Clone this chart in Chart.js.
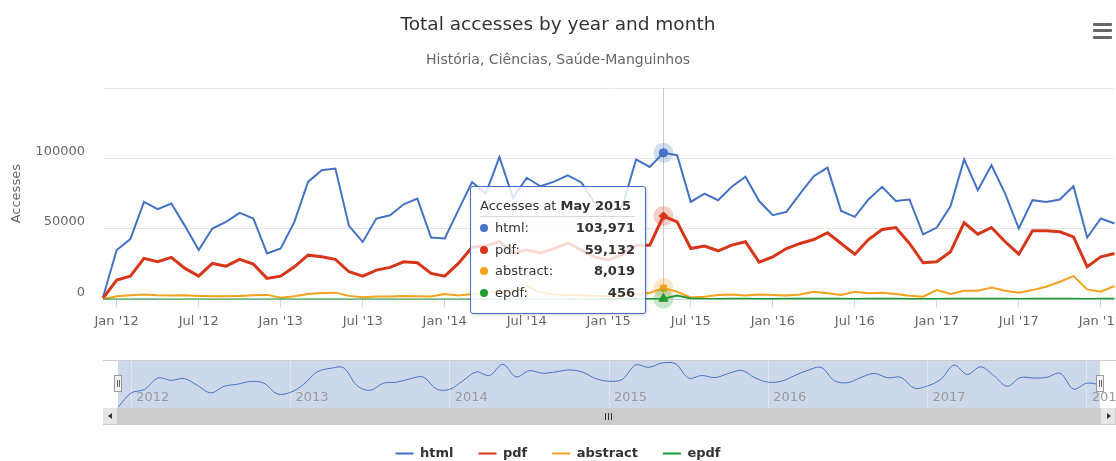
<!DOCTYPE html>
<html lang="en">
<head>
    <meta charset="UTF-8">
    <title>Total accesses by year and month</title>
    <script src="https://cdn.jsdelivr.net/npm/chart.js"></script>
    <style>
        body { margin: 0; background: #fff; font-family: "DejaVu Sans", sans-serif; }
        #wrap { position: relative; width: 1116px; height: 461px; overflow: hidden; }
        #mainChart { position: absolute; left: 0; top: 0; }
        #navChart { position: absolute; left: 103px; top: 360px; }
        .menu { position: absolute; left: 1093px; width: 19px; height: 3px; background: #666; border-radius: 1px; }
        .handle { position: absolute; top: 375px; width: 6px; height: 15px; background: #f2f2f2; border: 1px solid #999; }
        .handle::before, .handle::after { content: ""; position: absolute; top: 4px; width: 1px; height: 7px; background: #666; }
        .handle::before { left: 2px; }
        .handle::after { left: 4px; }
        #scrollbar { position: absolute; left: 103px; top: 408px; width: 1013px; height: 17px; background: #cccccc; }
        .sbtn { position: absolute; top: 408px; width: 14px; height: 16px; background: #e6e6e6; border: 1px solid #cccccc; border-width: 0 1px 1px 0; }
        .arrow { position: absolute; top: 5px; left: 5px; width: 0; height: 0; border-top: 3px solid transparent; border-bottom: 3px solid transparent; }
        .grip { position: absolute; top: 413px; width: 1px; height: 7px; background: #333; }
        #tip { position: absolute; box-sizing: border-box; width: 176px; height: 128px; padding: 9px 10px 9px 9px;
               background: rgba(255,255,255,0.82); border: 1px solid #4472c4; border-radius: 3px;
               box-shadow: 1px 1px 3px rgba(0,0,0,0.18); font-size: 13px; color: #333; opacity: 0; pointer-events: none; }
        #tip .head { line-height: 20px; border-bottom: 1px solid #d8d8d8; white-space: nowrap; }
        #tip .row { display: flex; align-items: center; line-height: 21.7px; white-space: nowrap; }
        #tip .dot { width: 8px; height: 8px; border-radius: 50%; }
        #tip .name { flex: 1; margin-left: 7px; }
        #tip .val { font-weight: bold; }
    </style>
</head>
<body>
<div id="wrap">
    <canvas id="mainChart" width="1116" height="470"></canvas>
    <canvas id="navChart" width="1013" height="48"></canvas>

    <!-- export menu icon -->
    <div class="menu" style="top:23px"></div>
    <div class="menu" style="top:29px"></div>
    <div class="menu" style="top:36px"></div>

    <!-- navigator scrollbar -->
    <div id="scrollbar"></div>
    <div class="sbtn" style="left:103px"><div class="arrow" style="border-right:4px solid #333"></div></div>
    <div class="sbtn" style="left:1101px"><div class="arrow" style="left:6px;border-left:4px solid #333"></div></div>
    <div class="grip" style="left:605px"></div>
    <div class="grip" style="left:608px"></div>
    <div class="grip" style="left:611px"></div>
    <div class="handle" id="handleL"></div>
    <div class="handle" id="handleR"></div>

    <div id="tip"></div>
</div>

<script>
    // months shown on the x axis
    const categories = [
        'Dec 2011',
        'Jan 2012', 'Feb 2012', 'Mar 2012', 'Apr 2012', 'May 2012', 'Jun 2012', 'Jul 2012', 'Aug 2012', 'Sep 2012', 'Oct 2012', 'Nov 2012', 'Dec 2012',
        'Jan 2013', 'Feb 2013', 'Mar 2013', 'Apr 2013', 'May 2013', 'Jun 2013', 'Jul 2013', 'Aug 2013', 'Sep 2013', 'Oct 2013', 'Nov 2013', 'Dec 2013',
        'Jan 2014', 'Feb 2014', 'Mar 2014', 'Apr 2014', 'May 2014', 'Jun 2014', 'Jul 2014', 'Aug 2014', 'Sep 2014', 'Oct 2014', 'Nov 2014', 'Dec 2014',
        'Jan 2015', 'Feb 2015', 'Mar 2015', 'Apr 2015', 'May 2015', 'Jun 2015', 'Jul 2015', 'Aug 2015', 'Sep 2015', 'Oct 2015', 'Nov 2015', 'Dec 2015',
        'Jan 2016', 'Feb 2016', 'Mar 2016', 'Apr 2016', 'May 2016', 'Jun 2016', 'Jul 2016', 'Aug 2016', 'Sep 2016', 'Oct 2016', 'Nov 2016', 'Dec 2016',
        'Jan 2017', 'Feb 2017', 'Mar 2017', 'Apr 2017', 'May 2017', 'Jun 2017', 'Jul 2017', 'Aug 2017', 'Sep 2017', 'Oct 2017', 'Nov 2017', 'Dec 2017',
        'Jan 2018', 'Feb 2018'
    ];

    const htmlAccesses = [
        1500,
        35000, 42800, 69200, 64000, 68000, 52000, 35000, 50300, 55000, 61400, 57400, 32600,
        36100, 55000, 83400, 91600, 92800, 52000, 40800, 57400, 59700, 67500, 71500, 43900,
        43200, 63300, 83300, 75100, 101000, 72000, 86300, 80300, 83600, 88000, 83000, 68000,
        62000, 66000, 99300, 94000, 103971, 102300, 69200, 75100, 70400, 79900, 87000, 69800,
        59800, 62100, 75100, 87400, 93500, 62800, 58600, 70900, 79900, 69900, 70900, 46100,
        51000, 66100, 99300, 77500, 95200, 75100, 50300, 70400, 69200, 70900, 80300, 43900,
        57400, 53900
    ];

    const pdfAccesses = [
        800,
        13700, 16500, 29100, 26700, 29800, 22000, 16500, 25500, 23600, 28400, 25000, 14900,
        16500, 23100, 31400, 30200, 28400, 19600, 16500, 20800, 22700, 26700, 26000, 18400,
        16500, 25500, 37000, 38000, 41000, 33000, 35000, 33000, 36000, 40000, 35000, 30000,
        28000, 32000, 38500, 38500, 59132, 55000, 36100, 37800, 34500, 38500, 40900, 26500,
        30200, 36100, 39700, 42500, 47300, 39700, 32100, 42500, 49600, 51000, 39700, 26000,
        26700, 33800, 54400, 46300, 51000, 40900, 32100, 48700, 48700, 48000, 44400, 23200,
        30200, 32600
    ];

    const abstractAccesses = [
        300,
        2200, 3000, 3500, 3000, 2800, 2900, 2500, 2300, 2200, 2500, 3000, 3200,
        1200, 2200, 3800, 4500, 4800, 2500, 1500, 2000, 2000, 2500, 2200, 2000,
        3800, 2800, 3800, 4500, 6000, 5000, 9500, 5000, 3500, 3000, 3000, 2500,
        2500, 3000, 3800, 4500, 8019, 5400, 1400, 1900, 3100, 3500, 2800, 3500,
        3100, 2800, 3500, 5400, 4300, 3100, 5400, 4300, 4700, 3800, 2600, 1900,
        6600, 3800, 6100, 6100, 8500, 6100, 4700, 6600, 9000, 12500, 16500, 7100,
        5400, 9500
    ];

    const epdfAccesses = [
        0,
        0, 0, 0, 0, 0, 0, 0, 0, 0, 0, 0, 0,
        0, 0, 0, 0, 0, 0, 0, 0, 0, 0, 0, 0,
        0, 0, 0, 0, 0, 0, 0, 0, 0, 0, 0, 0,
        150, 200, 250, 300, 456, 2800, 700, 400, 350, 400, 450, 350,
        350, 400, 450, 400, 450, 400, 350, 400, 450, 400, 350, 300,
        350, 400, 450, 400, 450, 400, 350, 400, 450, 500, 450, 350,
        400, 450
    ];

    const yTicks = [0, 50000, 100000, 150000];
    const yTickLabels = ['0', '50000', '100000', ''];
    const navigatorYears = ['2012', '2013', '2014', '2015', '2016', '2017', '2018'];
    const hoverMonth = 'May 2015';

    const FONT = '"DejaVu Sans", sans-serif';
    Chart.defaults.font.family = FONT;
    Chart.defaults.font.size = 13;

    const colors = { html: '#4472c4', pdf: '#d7361b', abstract: '#f4a11c', epdf: '#219a30' };

    function isHalfYear(i) {
        const m = categories[i].slice(0, 3);
        return m === 'Jan' || m === 'Jul';
    }

    function series(label, data, color, width, pointStyle, order) {
        return {
            label: label,
            data: data,
            borderColor: color,
            backgroundColor: color,
            borderWidth: width,
            pointRadius: 0,
            pointHoverRadius: pointStyle === 'triangle' ? 5 : 4,
            pointHoverBorderWidth: 1,
            pointHoverBackgroundColor: color,
            pointHoverBorderColor: color,
            pointStyle: pointStyle,
            tension: 0,
            fill: false,
            order: order
        };
    }

    // Tooltip built as HTML, like the original one
    function htmlTooltip(context) {
        const tooltip = context.tooltip;
        const tip = document.getElementById('tip');
        if (tooltip.opacity === 0 || !tooltip.dataPoints || !tooltip.dataPoints.length) {
            tip.style.opacity = 0;
            return;
        }
        const points = tooltip.dataPoints.slice().sort((a, b) => a.datasetIndex - b.datasetIndex);
        let html = '<div class="head">Accesses at <b>' + categories[points[0].dataIndex] + '</b></div>';
        points.forEach(p => {
            html += '<div class="row"><span class="dot" style="background:' + p.dataset.borderColor + '"></span>' +
                '<span class="name">' + p.dataset.label + ':</span>' +
                '<span class="val">' + p.raw.toLocaleString('en-US') + '</span></div>';
        });
        tip.innerHTML = html;
        tip.style.borderColor = points[0].dataset.borderColor;
        const x = points[0].element.x;
        tip.style.left = Math.round(x - 18 - tip.offsetWidth) + 'px';
        tip.style.top = Math.round(context.chart.chartArea.top + 98) + 'px';
        tip.style.opacity = 1;
    }

    const crosshair = {
        id: 'crosshair',
        beforeDatasetsDraw(chart) {
            const active = chart.getActiveElements();
            if (!active.length) return;
            const ctx = chart.ctx;
            const x = Math.round(active[0].element.x) + 0.5;
            ctx.save();
            ctx.strokeStyle = '#cccccc';
            ctx.lineWidth = 1;
            ctx.beginPath();
            ctx.moveTo(x, chart.chartArea.top);
            ctx.lineTo(x, chart.chartArea.bottom);
            ctx.stroke();
            ctx.restore();
        }
    };

    const halo = {
        id: 'halo',
        afterDatasetsDraw(chart) {
            const ctx = chart.ctx;
            chart.getActiveElements().forEach(a => {
                const color = chart.data.datasets[a.datasetIndex].borderColor;
                ctx.save();
                ctx.globalAlpha = 0.25;
                ctx.fillStyle = color;
                ctx.beginPath();
                ctx.arc(a.element.x, a.element.y, 10, 0, Math.PI * 2);
                ctx.fill();
                ctx.restore();
                a.element.draw(ctx, chart.chartArea);
            });
        }
    };

    const mainChart = new Chart(document.getElementById('mainChart'), {
        type: 'line',
        data: {
            labels: categories,
            datasets: [
                series('html', htmlAccesses, colors.html, 2, 'circle', 4),
                series('pdf', pdfAccesses, colors.pdf, 3, 'rectRot', 3),
                series('abstract', abstractAccesses, colors.abstract, 2, 'rect', 2),
                series('epdf', epdfAccesses, colors.epdf, 2, 'triangle', 1)
            ]
        },
        options: {
            responsive: false,
            animation: false,
            events: [],
            layout: { padding: { left: 0, right: 0, top: 0, bottom: 0 } },
            scales: {
                x: {
                    offset: false,
                    afterFit: scale => { scale.paddingLeft = 0; scale.paddingRight = 0; },
                    grid: {
                        drawOnChartArea: false,
                        drawTicks: true,
                        tickLength: 8,
                        color: ctx => isHalfYear(ctx.index) ? '#ccd6eb' : 'rgba(0,0,0,0)'
                    },
                    border: { display: true, color: '#ccd6eb' },
                    ticks: {
                        autoSkip: false,
                        maxRotation: 0,
                        color: '#666666',
                        padding: 6,
                        callback: (v, i) => isHalfYear(i) ? categories[i].slice(0, 3) + " '" + categories[i].slice(-2) : ''
                    }
                },
                y: {
                    min: 0,
                    max: 150000,
                    afterBuildTicks: scale => { scale.ticks = yTicks.map(v => ({ value: v })); },
                    afterFit: scale => { scale.width = 103; },
                    grid: { color: '#e6e6e6', drawTicks: false },
                    border: { display: false },
                    ticks: {
                        color: '#666666',
                        padding: 18,
                        labelOffset: -7,
                        callback: (v, i) => yTickLabels[i]
                    },
                    title: {
                        display: true,
                        text: 'Accesses',
                        color: '#666666',
                        font: { size: 13 },
                        padding: { top: 9, bottom: 0 }
                    }
                }
            },
            plugins: {
                title: {
                    display: true,
                    text: 'Total accesses by year and month',
                    color: '#333333',
                    font: { size: 18.5, weight: 'normal' },
                    padding: { top: 14, bottom: 16 }
                },
                subtitle: {
                    display: true,
                    text: 'História, Ciências, Saúde-Manguinhos',
                    color: '#666666',
                    font: { size: 14 },
                    padding: { top: 0, bottom: 19 }
                },
                legend: {
                    position: 'bottom',
                    title: { display: true, text: '', font: { size: 10 }, padding: { top: 75, bottom: 0 } },
                    labels: {
                        boxWidth: 18,
                        boxHeight: 2,
                        padding: 25,
                        color: '#333333',
                        font: { size: 13, weight: 'bold' },
                        sort: (a, b) => a.datasetIndex - b.datasetIndex,
                        generateLabels: chart => {
                            const items = Chart.defaults.plugins.legend.labels.generateLabels(chart);
                            items.forEach(it => { it.lineWidth = 0; it.fillStyle = it.strokeStyle; });
                            return items;
                        }
                    }
                },
                tooltip: {
                    enabled: false,
                    mode: 'index',
                    external: htmlTooltip
                }
            }
        },
        plugins: [crosshair, halo]
    });

    // show the tooltip for May 2015 as in the original picture
    const hoverIndex = categories.indexOf(hoverMonth);
    const activePoints = mainChart.data.datasets.map((d, i) => ({ datasetIndex: i, index: hoverIndex }));
    mainChart.setActiveElements(activePoints);
    mainChart.tooltip.setActiveElements(activePoints, { x: 0, y: 0 });
    mainChart.update();

    // navigator below the chart
    const isYearStart = i => categories[i].slice(0, 3) === 'Jan';

    const navMask = {
        id: 'navMask',
        beforeDraw(chart) {
            const ctx = chart.ctx;
            const a = chart.chartArea;
            ctx.save();
            ctx.fillStyle = 'rgba(102,133,194,0.32)';
            ctx.fillRect(a.left, a.top, a.right - a.left, a.bottom - a.top);
            ctx.strokeStyle = '#cccccc';
            ctx.lineWidth = 1;
            ctx.beginPath();
            ctx.moveTo(0, 0.5);
            ctx.lineTo(chart.width, 0.5);
            ctx.stroke();
            ctx.restore();
        },
        // year labels sit inside the navigator, right of their grid line
        afterDatasetsDraw(chart) {
            const ctx = chart.ctx;
            const xs = chart.scales.x;
            ctx.save();
            ctx.font = '13px ' + FONT;
            ctx.fillStyle = '#999999';
            ctx.textAlign = 'left';
            ctx.textBaseline = 'middle';
            xs.ticks.forEach((t, i) => {
                if (t.label) ctx.fillText(t.label, xs.getPixelForTick(i) + 5, chart.chartArea.bottom - 10);
            });
            ctx.restore();
        }
    };

    const navChart = new Chart(document.getElementById('navChart'), {
        type: 'line',
        data: {
            labels: categories,
            datasets: [{
                label: 'html',
                data: htmlAccesses,
                borderColor: colors.html,
                borderWidth: 1,
                pointRadius: 0,
                tension: 0.35,
                fill: false
            }]
        },
        options: {
            responsive: false,
            animation: false,
            events: [],
            layout: { padding: { left: 15, right: 16, top: 0, bottom: 0 } },
            scales: {
                x: {
                    offset: false,
                    afterFit: scale => { scale.height = 0; scale.paddingLeft = 0; scale.paddingRight = 0; },
                    grid: {
                        drawTicks: false,
                        color: ctx => isYearStart(ctx.index) ? '#e3e6ee' : 'rgba(0,0,0,0)'
                    },
                    border: { display: false },
                    ticks: {
                        display: false,
                        autoSkip: false,
                        maxRotation: 0,
                        callback: (v, i) => isYearStart(i) ? navigatorYears[navigatorYears.indexOf(categories[i].slice(-4))] : ''
                    }
                },
                y: { display: false, min: 0, max: 111000 }
            },
            plugins: { legend: { display: false }, tooltip: { enabled: false } }
        },
        plugins: [navMask]
    });

    // handles sit on the navigator's range edges
    const navLeft = 103;
    document.getElementById('handleL').style.left = (navLeft + navChart.chartArea.left - 4) + 'px';
    document.getElementById('handleR').style.left = (navLeft + navChart.chartArea.right - 4) + 'px';
</script>
</body>
</html>
